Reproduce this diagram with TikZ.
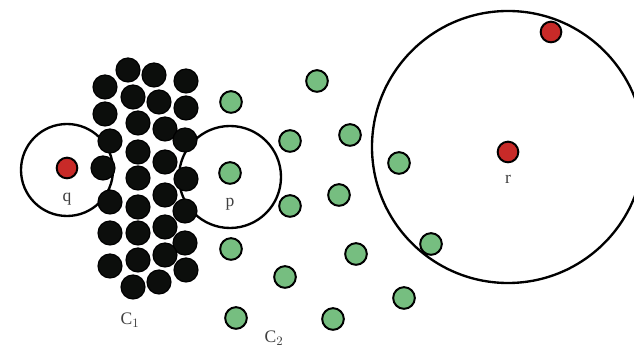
\documentclass[tikz,border=0pt]{standalone}
\usepackage{fontspec}
\setmainfont{Liberation Serif}
\usetikzlibrary{positioning}
\definecolor{corecol}{RGB}{12,14,12}
\definecolor{bordercol}{RGB}{118,190,128}
\definecolor{noisecol}{RGB}{200,42,40}

\begin{document}
\begin{tikzpicture}[x=0.03cm,y=-0.03cm]
  \tikzstyle{core}=[circle,draw=black,fill=corecol,line width=1pt,minimum size=0.72cm,inner sep=0pt]
  \tikzstyle{border}=[circle,draw=black,fill=bordercol,line width=1.7pt,minimum size=0.65cm,inner sep=0pt]
  \tikzstyle{noise}=[circle,draw=black,fill=noisecol,line width=1.7pt,minimum size=0.62cm,inner sep=0pt]
  \tikzstyle{eps}=[draw,line width=2pt]
  \tikzstyle{tag}=[text=black!75,font=\fontsize{15}{17}\selectfont,inner sep=1pt]
  \clip (0,0) rectangle (634,348);
  \fill[white] (0,0) rectangle (634,348);
  % centre points
  \coordinate (qc) at (67,170);
  \coordinate (pc) at (230,177);
  \coordinate (rc) at (508,147);
  % eps-neighbourhoods
  \draw[eps] (qc) circle (1.38cm);
  \draw[eps] (pc) circle (1.53cm);
  \draw[eps] (rc) circle (4.08cm);
  % cluster C1
  \foreach \x/\y [count=\i] in {128/70,154/75,186/81,105/87,133/97,159/102,186/108,105/114,
      138/123,165/129,185/140,110/141,138/152,165/162,103/168,138/178,186/179,165/195,
      110/202,138/207,185/211,110/233,138/233,165/227,185/243,110/266,138/260,165/255,
      186/270,133/287,159/282}
    \node[core] (a\i) at (\x,\y) {};
  % cluster C2
  \foreach \x/\y [count=\i] in {231/102,317/81,290/141,350/135,290/206,339/195,399/163,
      231/249,356/254,431/244,285/277,404/298,236/318,333/319}
    \node[border] (b\i) at (\x,\y) {};
  \node[border] (p) at (230,173) {};
  % noise points
  \node[noise] (q) at (67,168) {};
  \node[noise] (r) at (508,152) {};
  \node[noise] (s) at (551,32) {};
  % labels
  \node[tag,below=0.36cm of q] (qlab) {q};
  \node[tag,below=0.36cm of p] (plab) {p};
  \node[tag,below=0.3cm of r] (rlab) {r};
  \node[tag] (c1lab) at (130,320) {C$_1$};
  \node[tag] (c2lab) at (274,338) {C$_2$};
\end{tikzpicture}
\end{document}
